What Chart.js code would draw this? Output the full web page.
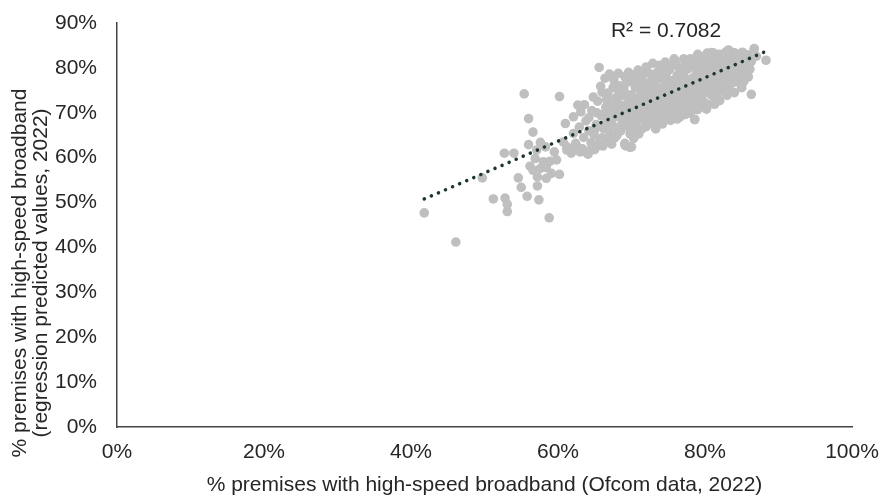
<!DOCTYPE html>
<html>
<head>
<meta charset="utf-8">
<script src="https://cdn.jsdelivr.net/npm/chart.js@4.4.1/dist/chart.umd.min.js"></script>
<style>
  html, body { margin: 0; padding: 0; background: #ffffff; }
  #wrap { width: 880px; height: 497px; }
</style>
</head>
<body>
<div id="wrap"><canvas id="scatterChart" width="880" height="497"></canvas></div>
<script>
/* --------------- Data: [Ofcom %, predicted %] --------------- */
const outlierPoints = [
  [41.8,47.7],[46.1,41.2],[49.7,55.5],[51.2,50.8],[52.8,51.0],[53.1,49.6],[53.1,48.0],
  [52.7,61.0],[54.0,61.0],[55.4,74.2],[54.6,55.5],[55.0,53.4],[55.8,51.4],[56.0,68.7],
  [56.6,65.7],[56.0,62.9],[57.2,53.7],[57.4,50.6],[58.8,46.6],[60.2,73.6],[56.2,58.1],
  [56.6,57.2],[57.2,55.7],[58.4,55.4],[59.1,56.5],[60.2,56.3],[56.9,59.8],[58.0,59.1],
  [58.9,59.2],[59.8,59.5],[59.5,61.3],[58.3,62.4],[57.6,63.4],[57.1,61.7],[58.4,57.8],
  [57.6,57.6],[61.0,67.6],[62.1,69.1],[62.7,71.7],[61.2,61.7],[61.8,61.0],[60.7,63.5],
  [62.1,65.4],[61.2,62.4],[61.9,61.8],[62.7,62.3],[64.1,60.8],[65.5,62.8],[69.1,62.8],
  [69.8,62.3],[86.3,74.1],[78.6,68.5]
];
const clusterPoints = [
  [62.4,63.2],[62.9,66.8],[63.3,62.0],[63.5,64.5],[63.8,68.2],[64.0,60.9],[64.2,66.0],[64.5,63.3],[64.6,70.5],[64.9,65.1],
  [65.0,61.8],[65.2,67.4],[65.4,72.6],[65.6,80.1],[65.7,64.0],[65.9,69.3],[66.1,62.6],[66.2,66.5],[66.4,77.7],[66.5,71.2],
  [66.7,68.0],[66.8,74.4],[66.9,63.7],[67.0,65.6],[67.1,70.0],[67.3,72.5],[67.4,67.3],[67.5,75.6],[67.7,64.4],[67.8,69.1],
  [67.9,73.3],[68.0,71.0],[68.2,78.8],[68.2,66.2],[68.4,76.0],[68.5,65.9],[68.6,70.6],[68.8,73.9],[68.9,68.1],[69.0,74.8],
  [69.1,63.2],[69.2,71.8],[69.3,62.6],[69.4,67.0],[69.5,76.9],[69.6,69.6],[69.7,72.9],[69.8,65.3],[69.9,66.1],[70.0,62.4],
  [70.0,74.0],[70.1,70.5],[70.2,68.2],[70.3,78.4],[70.4,71.9],[70.5,75.7],[70.6,67.0],[70.7,73.2],[70.8,69.4],[70.9,65.9],
  [71.0,77.2],[71.1,71.0],[71.2,68.6],[71.3,74.6],[71.4,66.4],[71.5,72.3],[71.6,76.1],[71.7,70.0],[71.8,79.2],[71.9,67.7],
  [72.0,73.7],[72.1,71.4],[72.2,69.0],[72.3,75.4],[72.4,78.8],[72.5,68.4],[72.6,72.8],[72.7,70.5],[72.8,77.0],[72.9,81.0],
  [72.9,74.2],[73.0,67.5],[73.1,71.9],[73.2,76.3],[73.3,69.8],[73.4,73.5],[73.5,79.0],[73.6,68.9],[73.7,75.0],[73.8,71.1],
  [73.9,77.8],[74.0,73.0],[74.1,70.3],[74.2,80.1],[74.3,68.4],[74.4,74.6],[74.5,76.8],[74.6,72.2],[74.7,78.5],[74.8,69.7],
  [74.9,75.9],[75.0,71.5],[75.1,73.9],[75.2,79.6],[75.3,70.0],[75.4,77.1],[75.5,74.8],[75.6,72.6],[75.7,80.6],[75.8,68.9],
  [75.9,76.2],[76.0,81.1],[76.0,73.4],[76.1,71.0],[76.2,78.3],[76.3,75.3],[76.4,69.6],[76.5,77.3],[76.6,69.1],[76.7,73.8],
  [76.8,80.0],[76.9,72.1],[77.0,75.9],[77.1,78.7],[77.2,70.8],[77.3,74.4],[77.4,81.5],[77.5,72.9],[77.6,77.0],[77.7,79.8],
  [77.8,71.7],[77.9,75.1],[78.0,82.0],[78.1,73.6],[78.2,77.6],[78.3,70.6],[78.4,80.4],[78.5,74.9],[78.6,68.5],[78.7,76.6],
  [78.8,72.3],[78.9,79.1],[79.0,81.6],[79.1,74.1],[79.2,77.9],[79.3,71.4],[79.4,80.2],[79.5,75.8],[79.6,73.0],[79.7,82.4],
  [79.8,78.6],[79.9,76.4],[80.0,72.2],[80.1,80.9],[80.2,74.7],[80.3,77.4],[80.4,82.7],[80.5,71.8],[80.6,79.4],[80.7,75.6],
  [80.8,81.4],[80.9,83.4],[80.9,73.9],[81.0,77.0],[81.1,80.0],[81.2,74.3],[81.3,82.2],[81.4,78.3],[81.5,72.8],[81.6,73.6],
  [81.7,79.6],[81.8,81.7],[81.9,76.0],[82.0,83.0],[82.1,75.0],[82.2,78.9],[82.3,75.4],[82.4,80.8],[82.5,77.6],[82.6,82.5],
  [82.7,74.6],[82.8,79.9],[82.9,83.6],[83.0,77.2],[83.1,81.2],[83.2,75.9],[83.3,79.0],[83.4,82.8],[83.5,77.9],[83.6,80.4],
  [83.7,76.6],[83.8,83.4],[83.9,78.7],[84.0,81.8],[84.2,77.0],[84.3,80.0],[84.5,82.3],[84.6,78.4],[84.8,81.7],[84.9,76.2],
  [85.0,79.3],[85.2,82.6],[85.4,80.6],[85.6,78.4],[85.9,78.0],[86.0,81.0],[86.3,81.4],[86.7,84.3],[86.7,84.2],[88.3,81.7],
  [87.0,82.6],
  [66.3,69.8],[67.2,68.7],[68.1,72.4],[68.7,67.5],[69.3,70.8],[69.8,73.6],[70.4,66.8],[71.2,73.0],[71.6,69.3],[72.2,76.6],
  [72.6,70.1],[73.1,74.7],[73.5,72.4],[73.9,70.9],[74.3,75.6],[74.7,73.4],[75.1,76.5],[75.6,70.8],[76.0,74.6],[76.4,76.9],
  [76.9,74.9],[77.3,76.7],[77.8,73.8],[78.2,75.9],[78.6,78.0],[79.1,76.9],[79.5,78.9],[80.0,77.7],[80.5,76.3],[81.0,78.6],
  [81.5,80.9],[82.0,77.3],[82.5,79.1],[83.0,79.9],[83.5,81.4],[84.0,79.2],[65.3,70.0],[64.2,68.9],[63.1,70.2],[66.0,74.6],
  [67.6,77.3],[69.1,78.0],[70.9,79.5],[74.6,81.3],[77.1,82.0],[79.0,83.0],[81.2,83.3],[83.2,84.0],
  [63.6,71.8],[64.8,73.5],[65.8,75.9],[66.6,72.9],[67.0,78.6],[68.3,74.6],[69.0,76.0],[69.6,79.0],[70.6,77.0],[71.4,78.0],
  [72.0,80.2],[73.0,78.3],[73.8,80.6],[74.9,79.3],[75.8,82.0],[76.6,79.5],[77.5,80.8],[78.3,81.4],[79.3,82.3],[80.3,83.3],
  [81.6,82.6],[82.2,81.8],[83.0,82.9],[84.1,83.3],[85.1,83.5],[85.8,82.9],[86.1,79.7],[85.3,77.0],
  [63.0,61.3],[64.6,62.1],[66.0,64.4],[67.3,63.0],[68.0,64.9],[70.3,64.3],[71.0,65.3],[72.0,66.9],[73.3,66.4],[74.2,67.5],
  [75.3,68.3],[76.2,68.6],[77.3,69.6],[78.0,69.9],[79.0,70.7],[80.2,70.8],[81.3,71.9],[82.0,72.7],[83.0,73.9],[84.0,74.5],
  [85.0,75.6],
  [65.0,66.2],[66.6,67.0],[67.7,70.9],[68.6,69.3],[69.2,67.8],[70.5,69.5],[71.3,70.6],[72.4,72.0],[73.2,70.8],[74.0,72.0],
  [74.8,74.6],[75.3,72.9],[76.2,72.3],[77.0,73.0],[77.6,75.9],[78.4,73.0],[79.0,75.0],[79.7,74.2],[80.4,79.0],[80.8,77.9],
  [81.4,76.3],[82.2,76.3],[82.8,78.1],[83.6,78.9],[84.4,80.9],[85.7,80.9]
];
/* --------------- Linear trendline ends --------------- */
const trendX = [41.8, 88.3];
const trendY = [50.8, 83.7];
const rSquaredText = "R² = 0.7082";
/* --------------- Axis ticks --------------- */
const xTicks = [0, 20, 40, 60, 80, 100];
const yTicks = [0, 10, 20, 30, 40, 50, 60, 70, 80, 90];
const xTitle = "% premises with high-speed broadband (Ofcom data, 2022)";
const yTitleLines = ["% premises with high-speed broadband", "(regression predicted values, 2022)"];

const FONT = "'Liberation Sans', Arial, sans-serif";
const textColor = "#262626";

const allPoints = outlierPoints.concat(clusterPoints).map(p => ({ x: p[0], y: p[1] }));
const trendPoints = trendX.map((x, i) => ({ x: x, y: trendY[i] }));

/* --------------- Titles and R² label drawn on top --------------- */
const labelsPlugin = {
  id: "labelsPlugin",
  afterDraw(chart) {
    const ctx = chart.ctx;
    const xs = chart.scales.x;
    const ys = chart.scales.y;
    ctx.save();
    ctx.fillStyle = textColor;
    ctx.font = "21px " + FONT;
    ctx.textBaseline = "middle";
    // x title
    ctx.textAlign = "center";
    ctx.fillText(xTitle, (chart.chartArea.left + chart.chartArea.right) / 2, 485);
    // y title
    ctx.save();
    ctx.translate(20, 273);
    ctx.rotate(-Math.PI / 2);
    ctx.fillText(yTitleLines[0], 0, 0);
    ctx.fillText(yTitleLines[1], 0, 21);
    ctx.restore();
    // R²
    ctx.textAlign = "center";
    ctx.fillText(rSquaredText, xs.getPixelForValue(74.7), ys.getPixelForValue(88.2));
    ctx.restore();
  }
};

new Chart(document.getElementById("scatterChart"), {
  type: "scatter",
  plugins: [labelsPlugin],
  data: {
    datasets: [
      {
        type: "line",
        data: trendPoints,
        showLine: true,
        borderColor: "#1f3630",
        borderWidth: 3.5,
        borderDash: [0.1, 7.6],
        borderCapStyle: "round",
        pointRadius: 0,
        fill: false,
        order: 0,
      },
      {
        data: allPoints,
        backgroundColor: "#bfbfbf",
        borderWidth: 0,
        pointRadius: 4.8,
        order: 1,
      },
    ],
  },
  options: {
    responsive: false,
    animation: false,
    layout: { padding: { left: 0, right: 28, top: 23, bottom: 0 } },
    plugins: {
      legend: { display: false },
      tooltip: { enabled: false },
    },
    scales: {
      x: {
        type: "linear",
        min: 0,
        max: 100,
        afterBuildTicks: (s) => { s.ticks = xTicks.map(v => ({ value: v })); },
        afterFit: (s) => { s.height = 70; s.paddingLeft = 0; s.paddingRight = 0; },
        grid: { display: false, drawTicks: false },
        border: { display: true, color: "#444444", width: 1.5 },
        ticks: {
          padding: 13,
          color: textColor,
          font: { family: FONT, size: 21 },
          callback: (v) => v + "%",
        },
      },
      y: {
        type: "linear",
        min: 0,
        max: 90,
        afterBuildTicks: (s) => { s.ticks = yTicks.map(v => ({ value: v })); },
        afterFit: (s) => { s.width = 117; s.paddingTop = 0; s.paddingBottom = 0; },
        grid: { display: false, drawTicks: false },
        border: { display: true, color: "#444444", width: 1.5 },
        ticks: {
          padding: 20,
          color: textColor,
          font: { family: FONT, size: 21 },
          callback: (v) => v + "%",
        },
      },
    },
  },
});
</script>
</body>
</html>
